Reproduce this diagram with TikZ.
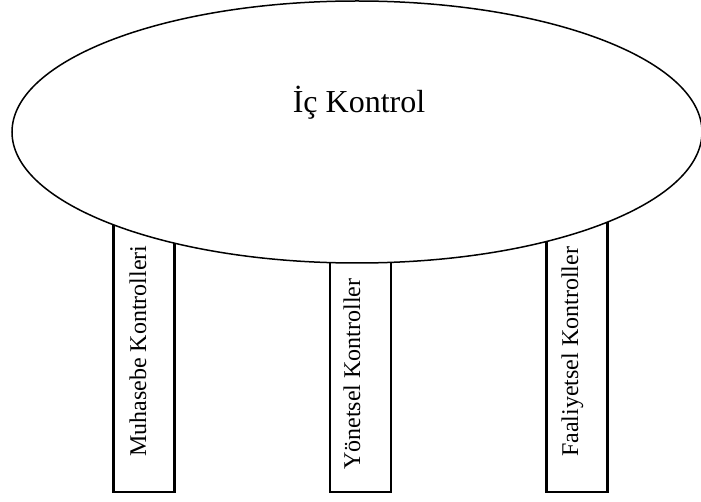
\documentclass[tikz,border=0pt]{standalone}
\usepackage{fontspec}
\setmainfont{Liberation Serif}
\usetikzlibrary{shapes.geometric}
\begin{document}
\begin{tikzpicture}[x=1pt,y=1pt,
  pillar/.style={rectangle, draw=black, line width=2.2pt, fill=white,
    inner sep=0pt, outer sep=0pt, minimum width=61pt, anchor=south west},
  pillartext/.style={rotate=90, anchor=base west, inner sep=0pt,
    font=\fontsize{24}{28}\selectfont},
  dome/.style={ellipse, draw=black, line width=1.5pt, fill=white,
    inner sep=0pt, minimum width=690pt, minimum height=262pt}]
  \useasboundingbox (0,0) rectangle (701,501);
  % three supporting columns, drawn first so the dome hides their tops
  \node[pillar, minimum height=277pt] (muh) at (113.5,9) {};
  \node[pillar, minimum height=230pt] (yon) at (330,9) {};
  \node[pillar, minimum height=277pt] (faa) at (546.5,9) {};
  % the dome
  \node[dome] (ic) at (357,369) {};
  \node[font=\fontsize{32}{38}\selectfont, anchor=base, inner sep=0pt] (ictxt) at (359,388) {İç Kontrol};
  % column labels
  \node[pillartext] (muhtxt) at (146,44) {Muhasebe Kontrolleri};
  \node[pillartext] (yontxt) at (360,31) {Yönetsel Kontroller};
  \node[pillartext] (faatxt) at (578,44) {Faaliyetsel Kontroller};
\end{tikzpicture}
\end{document}
